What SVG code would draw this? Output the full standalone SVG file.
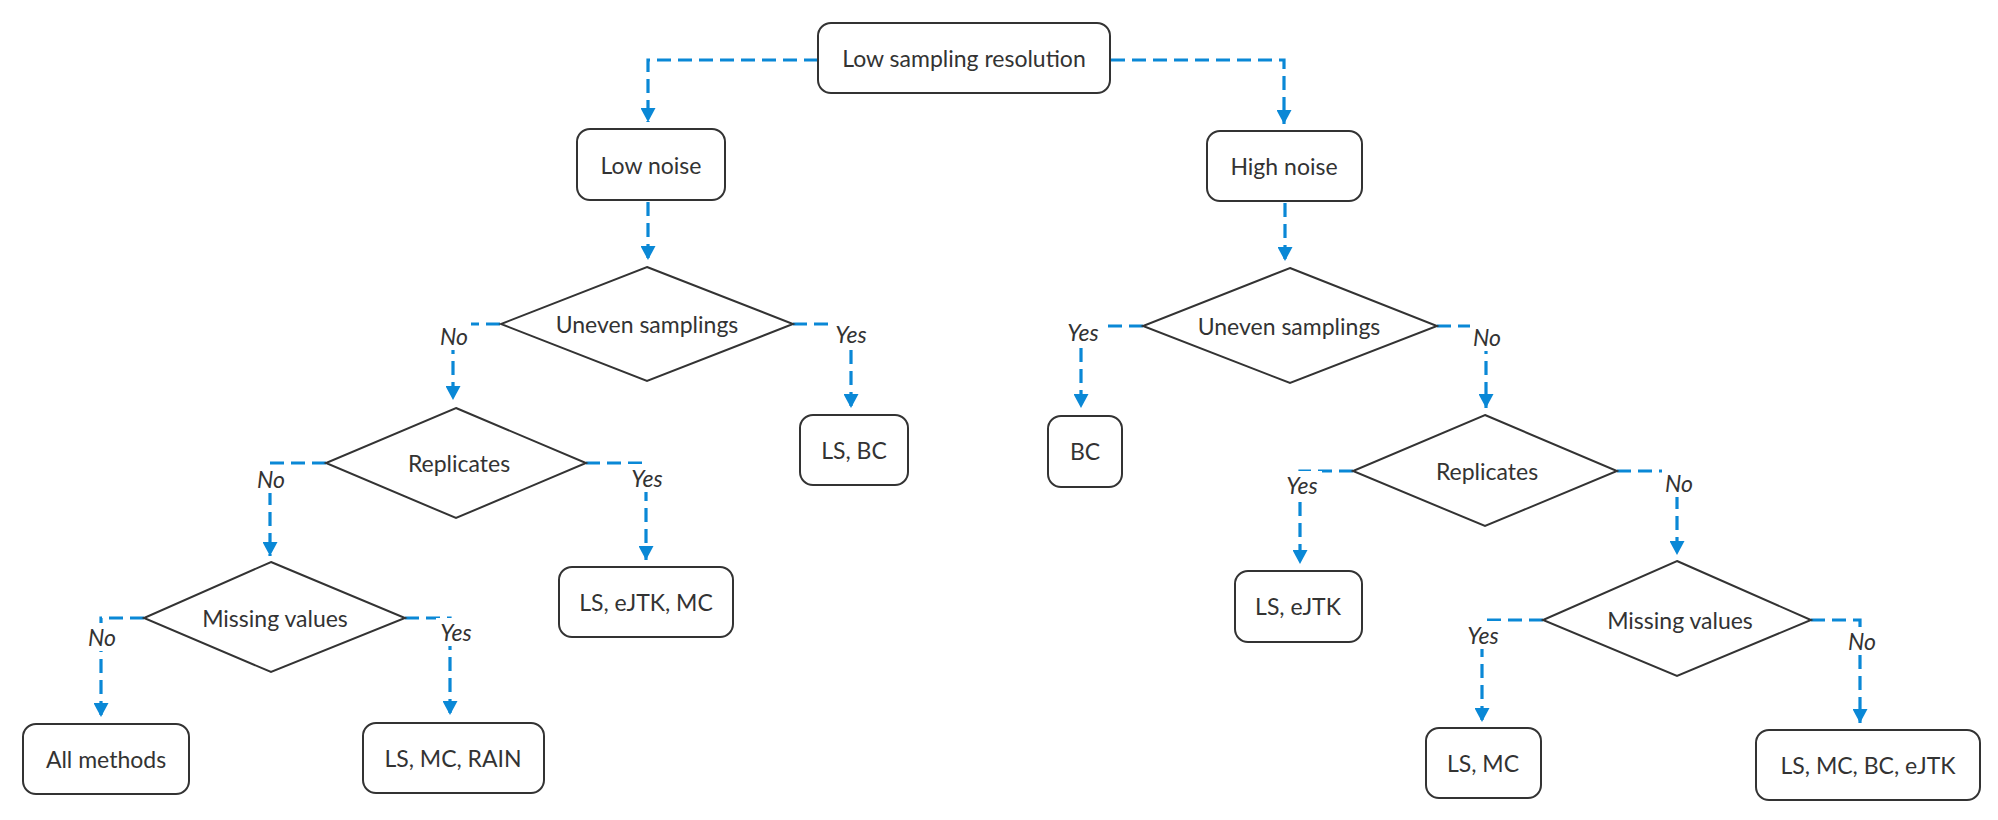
<svg xmlns="http://www.w3.org/2000/svg" width="1998" height="820" viewBox="0 0 1998 820">
<defs>
<style>
.box{fill:#fff;stroke:#333;stroke-width:2}
.dia{fill:#fff;stroke:#333;stroke-width:2}
.t{font-family:Lato,"Open Sans",sans-serif;font-size:23px;fill:#333;text-anchor:middle;dominant-baseline:central}
.c{fill:none;stroke:#0a88d6;stroke-width:3.2;stroke-dasharray:14 7;marker-end:url(#ah)}
.lb{font-family:Lato,"Open Sans",sans-serif;font-size:23px;font-style:italic;fill:#333;text-anchor:middle;dominant-baseline:central}
.lbg{fill:#fff}
</style>
<marker id="ah" markerUnits="userSpaceOnUse" markerWidth="15" markerHeight="15" refX="14" refY="7.5" orient="auto">
<path d="M0,0 L14,7.5 L0,15 z" fill="#0a88d6"/>
</marker>
</defs>
<rect width="1998" height="820" fill="#fff"/>
<g id="connectors">
<path class="c" d="M818,60 H648 V122"/>
<path class="c" d="M1111,60 H1284 V124"/>
<path class="c" d="M648,202 V260"/>
<path class="c" d="M1285,203 V261"/>
<path class="c" d="M500,324 H453 V400"/>
<path class="c" d="M793,324 H851 V408"/>
<path class="c" d="M326,463 H270 V556"/>
<path class="c" d="M586,463 H646 V560"/>
<path class="c" d="M144,618 H101 V717"/>
<path class="c" d="M405,618 H450 V715"/>
<path class="c" d="M1143,326 H1081 V408"/>
<path class="c" d="M1437,326 H1486 V408"/>
<path class="c" d="M1353,471 H1300 V564"/>
<path class="c" d="M1617,471 H1677 V555"/>
<path class="c" d="M1543,620 H1482 V722"/>
<path class="c" d="M1811,620 H1860 V723"/>
<g id="labels">
<rect class="lbg" x="437" y="322" width="34" height="28"/><text class="lb" x="454" y="336">No</text>
<rect class="lbg" x="831" y="320" width="40" height="28"/><text class="lb" x="851" y="334">Yes</text>
<rect class="lbg" x="254" y="465" width="34" height="28"/><text class="lb" x="271" y="479">No</text>
<rect class="lbg" x="627" y="464" width="40" height="28"/><text class="lb" x="647" y="478">Yes</text>
<rect class="lbg" x="85" y="623" width="34" height="28"/><text class="lb" x="102" y="637">No</text>
<rect class="lbg" x="436" y="618" width="40" height="28"/><text class="lb" x="456" y="632">Yes</text>
<rect class="lbg" x="1063" y="318" width="40" height="28"/><text class="lb" x="1083" y="332">Yes</text>
<rect class="lbg" x="1470" y="323" width="34" height="28"/><text class="lb" x="1487" y="337">No</text>
<rect class="lbg" x="1282" y="471" width="40" height="28"/><text class="lb" x="1302" y="485">Yes</text>
<rect class="lbg" x="1662" y="469" width="34" height="28"/><text class="lb" x="1679" y="483">No</text>
<rect class="lbg" x="1463" y="621" width="40" height="28"/><text class="lb" x="1483" y="635">Yes</text>
<rect class="lbg" x="1845" y="627" width="34" height="28"/><text class="lb" x="1862" y="641">No</text>
</g>
</g>
<g id="n-top"><rect class="box" x="818" y="23" width="292" height="70" rx="13"/><text class="t" x="964" y="58">Low sampling resolution</text></g>
<g id="n-lownoise"><rect class="box" x="577" y="129" width="148" height="71" rx="13"/><text class="t" x="651" y="165">Low noise</text></g>
<g id="n-highnoise"><rect class="box" x="1207" y="131" width="155" height="70" rx="13"/><text class="t" x="1284" y="166">High noise</text></g>
<g id="n-uneven-l"><polygon class="dia" points="647,267 793,324 647,381 501,324"/><text class="t" x="647" y="324">Uneven samplings</text></g>
<g id="n-lsbc"><rect class="box" x="800" y="415" width="108" height="70" rx="13"/><text class="t" x="854" y="450">LS, BC</text></g>
<g id="n-repl-l"><polygon class="dia" points="456,408 586,463 456,518 326,463"/><text class="t" x="459" y="463">Replicates</text></g>
<g id="n-lsejtkmc"><rect class="box" x="559" y="567" width="174" height="70" rx="13"/><text class="t" x="646" y="602">LS, eJTK, MC</text></g>
<g id="n-miss-l"><polygon class="dia" points="271,562 405,618 271,672 144,618"/><text class="t" x="275" y="618">Missing values</text></g>
<g id="n-allmethods"><rect class="box" x="23" y="724" width="166" height="70" rx="13"/><text class="t" x="106" y="759">All methods</text></g>
<g id="n-lsmcrain"><rect class="box" x="363" y="723" width="181" height="70" rx="13"/><text class="t" x="453" y="758">LS, MC, RAIN</text></g>
<g id="n-uneven-r"><polygon class="dia" points="1290,268 1437,326 1290,383 1143,326"/><text class="t" x="1289" y="326">Uneven samplings</text></g>
<g id="n-bc"><rect class="box" x="1048" y="416" width="74" height="71" rx="13"/><text class="t" x="1085" y="451">BC</text></g>
<g id="n-repl-r"><polygon class="dia" points="1485,415 1617,471 1485,526 1353,471"/><text class="t" x="1487" y="471">Replicates</text></g>
<g id="n-lsejtk"><rect class="box" x="1235" y="571" width="127" height="71" rx="13"/><text class="t" x="1298" y="606">LS, eJTK</text></g>
<g id="n-miss-r"><polygon class="dia" points="1677,561 1811,620 1677,676 1543,620"/><text class="t" x="1680" y="620">Missing values</text></g>
<g id="n-lsmc"><rect class="box" x="1426" y="728" width="115" height="70" rx="13"/><text class="t" x="1483" y="763">LS, MC</text></g>
<g id="n-lsmcbcejtk"><rect class="box" x="1756" y="730" width="224" height="70" rx="13"/><text class="t" x="1868" y="765">LS, MC, BC, eJTK</text></g>
</svg>
